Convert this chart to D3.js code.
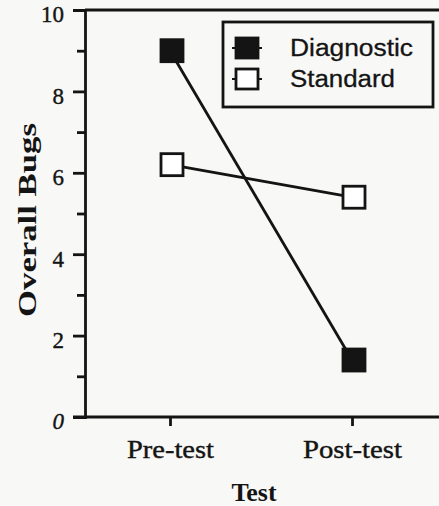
<!DOCTYPE html>
<html><head><meta charset="utf-8">
<script src="https://cdn.jsdelivr.net/npm/d3@7"></script>
<style>html,body{margin:0;padding:0;background:#f8f8f6;}svg{display:block;}</style>
</head><body>
<script>
const categories = ["Pre-test", "Post-test"];
const seriesNames = ["Diagnostic", "Standard"];
const diagnostic = [9.0, 1.4];
const standard = [6.2, 5.4];
const yTicks = [0, 2, 4, 6, 8, 10];
const yMinorTicks = [1, 3, 5, 7, 9];

(function () {
const W = 439, H = 506;
const ink = "#141414";
const svg = d3.select("body").append("svg").attr("width", W).attr("height", H);
svg.append("rect").attr("width", W).attr("height", H).attr("fill", "#f8f8f6");

const pLeft = 85, pTop = 10, pBottom = 417, pRight = 445;
const x = d3.scalePoint().domain(categories).range([170, 352]);
const y = d3.scaleLinear().domain([0, 10]).range([pBottom, pTop]);
const serif = "'Liberation Serif','Times New Roman',serif";
const sans = "'Liberation Sans',Arial,sans-serif";
const sw = 2.8;

// frame: top line
svg.append("line").attr("x1", pLeft).attr("x2", pRight).attr("y1", pTop).attr("y2", pTop)
  .attr("stroke", ink).attr("stroke-width", sw);

// y axis
const yAxis = d3.axisLeft(y).tickValues(yTicks).tickSize(12).tickPadding(9)
  .tickFormat(d3.format("d"));
const gy = svg.append("g").attr("transform", `translate(${pLeft},0)`).call(yAxis);
gy.select(".domain").attr("stroke", ink).attr("stroke-width", sw);
gy.selectAll(".tick line").attr("stroke", ink).attr("stroke-width", sw);
gy.selectAll(".tick text").attr("font-family", serif).attr("font-size", 23)
  .attr("fill", ink).attr("stroke", ink).attr("stroke-width", 0.4).attr("dy", "0.52em")
  .attr("font-style", d => d === 0 ? "italic" : "normal");
const gym = svg.append("g").attr("transform", `translate(${pLeft},0)`)
  .call(d3.axisLeft(y).tickValues(yMinorTicks).tickSize(8).tickFormat(""));
gym.select(".domain").remove();
gym.selectAll(".tick line").attr("stroke", ink).attr("stroke-width", sw);

// x axis
const gx = svg.append("g").attr("transform", `translate(0,${pBottom})`)
  .call(d3.axisBottom(x).tickSize(9).tickPadding(14).tickSizeOuter(0));
gx.select(".domain").remove();
svg.append("line").attr("x1", pLeft - 12).attr("x2", pRight).attr("y1", pBottom).attr("y2", pBottom)
  .attr("stroke", ink).attr("stroke-width", sw);
gx.selectAll(".tick line").attr("stroke", ink).attr("stroke-width", sw);
gx.selectAll(".tick text").attr("font-family", serif).attr("font-size", 25)
  .attr("fill", ink).attr("stroke", ink).attr("stroke-width", 0.4).attr("dy", "0.71em")
  .attr("textLength", d => d === "Pre-test" ? 87 : 99).attr("lengthAdjust", "spacingAndGlyphs");

// axis titles
svg.append("text").attr("transform", `translate(36,220) rotate(-90)`)
  .attr("text-anchor", "middle").attr("font-family", serif).attr("font-weight", "bold")
  .attr("font-size", 26).attr("fill", ink).attr("textLength", 194)
  .attr("lengthAdjust", "spacingAndGlyphs").text("Overall Bugs");
svg.append("text").attr("x", 254).attr("y", 501)
  .attr("text-anchor", "middle").attr("font-family", serif).attr("font-weight", "bold")
  .attr("font-size", 26).attr("fill", ink).attr("textLength", 45)
  .attr("lengthAdjust", "spacingAndGlyphs").text("Test");

// series
const series = [
  { name: seriesNames[0], values: diagnostic, fill: ink },
  { name: seriesNames[1], values: standard, fill: "#ffffff" }
];
const line = d3.line().x((d, i) => x(categories[i])).y(d => y(d));
const S = 22;
series.forEach(s => {
  svg.append("path").datum(s.values).attr("d", line)
    .attr("fill", "none").attr("stroke", ink).attr("stroke-width", sw);
});
series.forEach(s => {
  svg.selectAll(null).data(s.values).enter().append("rect")
    .attr("x", (d, i) => x(categories[i]) - S / 2 + 2)
    .attr("y", d => y(d) - S / 2)
    .attr("width", S).attr("height", S)
    .attr("fill", s.fill).attr("stroke", ink).attr("stroke-width", sw);
});

// legend
const lg = svg.append("g");
lg.append("rect").attr("x", 223).attr("y", 22).attr("width", 210).attr("height", 85)
  .attr("fill", "#f8f8f6").attr("stroke", ink).attr("stroke-width", sw);
series.forEach((s, i) => {
  const cy = 48 + i * 31;
  lg.append("line").attr("x1", 232).attr("x2", 262).attr("y1", cy).attr("y2", cy)
    .attr("stroke", ink).attr("stroke-width", 2);
  lg.append("rect").attr("x", 236).attr("y", cy - 10).attr("width", 22).attr("height", 20)
    .attr("fill", s.fill).attr("stroke", ink).attr("stroke-width", sw);
  lg.append("text").attr("x", 290).attr("y", cy + 8)
    .attr("font-family", sans).attr("font-size", 23).attr("fill", ink)
    .attr("stroke", ink).attr("stroke-width", 0.3)
    .attr("textLength", i === 0 ? 123 : 105).attr("lengthAdjust", "spacingAndGlyphs")
    .text(s.name);
});
})();
</script>
</body></html>
